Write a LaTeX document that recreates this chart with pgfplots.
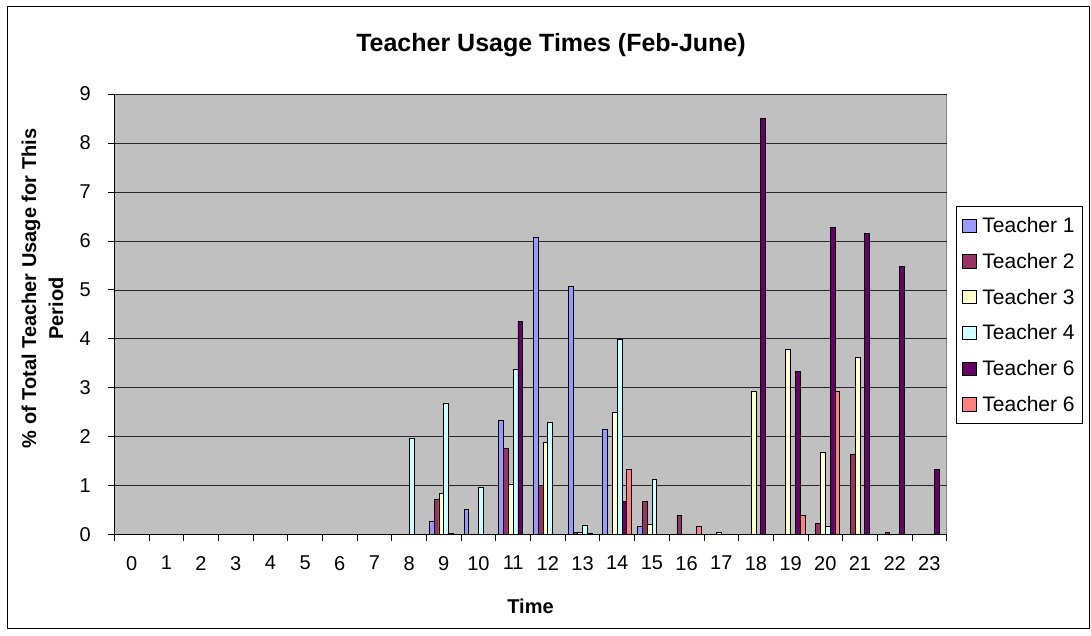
\documentclass[border=0pt]{standalone}
\usepackage{pgfplots}
\pgfplotsset{compat=1.18}
\usepackage{fontspec}
\setmainfont{Liberation Sans}
\definecolor{tA}{HTML}{9999FF}
\definecolor{tB}{HTML}{993366}
\definecolor{tC}{HTML}{FFFFCC}
\definecolor{tD}{HTML}{CCFFFF}
\definecolor{tE}{HTML}{660066}
\definecolor{tF}{HTML}{FF8080}
\definecolor{bgG}{HTML}{C0C0C0}
\pgfplotsset{sq legend/.style={legend image code/.code={\draw[##1,draw=black,line width=0.8pt] (0pt,-6.6pt) rectangle (13.2pt,6.6pt);}}}
\begin{document}
\begin{tikzpicture}[x=1pt,y=1pt]
\useasboundingbox (0,0) rectangle (1091,635);
\draw[line width=1pt] (7,7) rectangle (1089,628);
\begin{axis}[
  at={(114.3pt,100.3pt)}, anchor=south west,
  scale only axis, width=832.4pt, height=440.7pt,
  xmin=-0.5, xmax=23.5, ymin=0, ymax=9,
  ybar=0pt, bar width=4.8pt,
  axis x line*=bottom, axis y line*=left,
  axis line style={black, line width=0.8pt},
  axis background/.style={fill=bgG, draw=gray, line width=0.8pt},
  xtick={-0.5,0.5,...,23.5}, xticklabels={},
  extra x ticks={0,1,...,23},
  extra x tick style={major tick length=0pt, grid=none},
  ytick={0,...,9},
  tick align=outside, major tick length=6pt,
  tick style={black, line width=0.8pt},
  ymajorgrids, grid style={black!85, line width=0.7pt},
  /pgf/number format/assume math mode=true,
  tick label style={font=\fontsize{20}{24}\selectfont},
  yticklabel style={xshift=-14pt},
  xticklabel style={yshift=-18pt},
  legend style={at={(1.0112,0.7459)}, anchor=north west, draw=black, line width=0.8pt,
    font=\fontsize{21}{25}\selectfont, row sep=15pt, fill=white,
    inner xsep=6pt, inner ysep=9pt,
    /tikz/every odd column/.style={column sep=4pt}},
  legend cell align=left,
]
\addplot[fill=tA, draw=black, line width=0.8pt, sq legend] coordinates {(9,0.28) (10,0.52) (11,2.33) (12,6.08) (13,5.07) (14,2.16) (15,0.16)};
\addplot[fill=tB, draw=black, line width=0.8pt, sq legend] coordinates {(9,0.72) (11,1.76) (12,1.0) (13,0.04) (15,0.67) (16,0.39) (20,0.23) (21,1.64) (22,0.04)};
\addplot[fill=tC, draw=black, line width=0.8pt, sq legend] coordinates {(9,0.84) (11,1.03) (12,1.89) (13,0.04) (14,2.49) (15,0.22) (17,0.04) (18,2.93) (19,3.79) (20,1.69) (21,3.62)};
\addplot[fill=tD, draw=black, line width=0.8pt, sq legend] coordinates {(8,1.96) (9,2.69) (10,0.96) (11,3.37) (12,2.29) (13,0.19) (14,3.99) (15,1.12) (20,0.16)};
\addplot[fill=tE, draw=black, line width=0.8pt, sq legend] coordinates {(9,0.03) (11,4.35) (13,0.03) (14,0.67) (18,8.5) (19,3.34) (20,6.28) (21,6.16) (22,5.48) (23,1.33)};
\addplot[fill=tF, draw=black, line width=0.8pt, sq legend] coordinates {(14,1.33) (16,0.16) (19,0.39) (20,2.93)};
\legend{Teacher 1,Teacher 2,Teacher 3,Teacher 4,Teacher 6,Teacher 6}
\end{axis}
\node[font=\bfseries\fontsize{25}{30}\selectfont, anchor=base] at (551,583) {Teacher Usage Times (Feb-June)};
\node[font=\bfseries\fontsize{20}{24}\selectfont] at (530.5,29) {Time};
\node[font=\bfseries\fontsize{20}{24}\selectfont, rotate=90] at (31,346.5) {\% of Total Teacher Usage for This};
\node[font=\bfseries\fontsize{20}{24}\selectfont, rotate=90] at (56,326.5) {Period};
\end{tikzpicture}
\end{document}
